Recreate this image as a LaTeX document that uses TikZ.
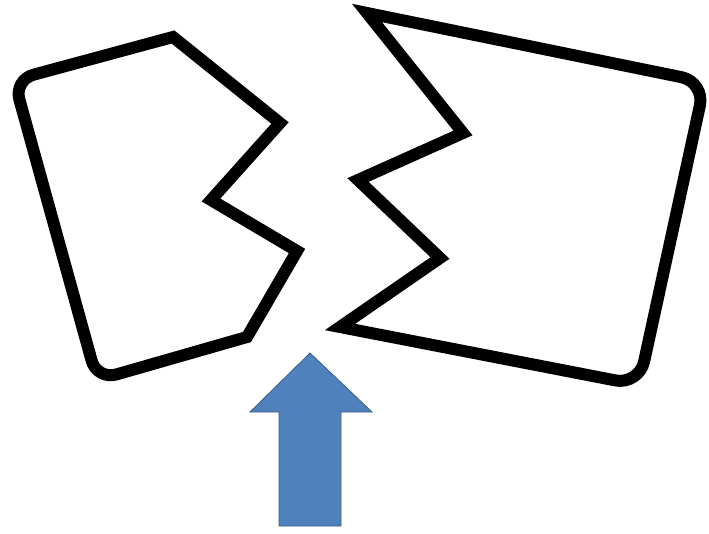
\documentclass[tikz,border=0pt]{standalone}
\usepackage{tikz}
\usepackage{xcolor}
\usetikzlibrary{arrows.meta}
\definecolor{flecha}{RGB}{79,129,189}
\definecolor{flechaborde}{RGB}{56,93,138}

\begin{document}
\begin{tikzpicture}[
    x=1pt,
    y=-1pt,
    pieza/.style={draw=black, line width=12pt, line join=miter},
    flechaup/.style={fill=flecha, draw=flechaborde, line width=0.8pt}
]

\useasboundingbox (0,0) rectangle (709,534);

% Pieza izquierda
\draw[pieza] (173,37) [rounded corners=20pt] -- (14,80) -- (97,380)
    [sharp corners] -- (247,337) -- (297,251) -- (211,200) -- (280,123) -- cycle;

% Pieza derecha
\draw[pieza] (367,13) [rounded corners=24pt] -- (705,82) -- (639,385)
    [sharp corners] -- (340,327) -- (440,258) -- (358,180) -- (463,133) -- cycle;

% Flecha
\draw[flechaup] (279,526) -- (279,412) -- (250,412) -- (310,353)
    -- (372,412) -- (341,412) -- (341,526) -- cycle;

\end{tikzpicture}
\end{document}
